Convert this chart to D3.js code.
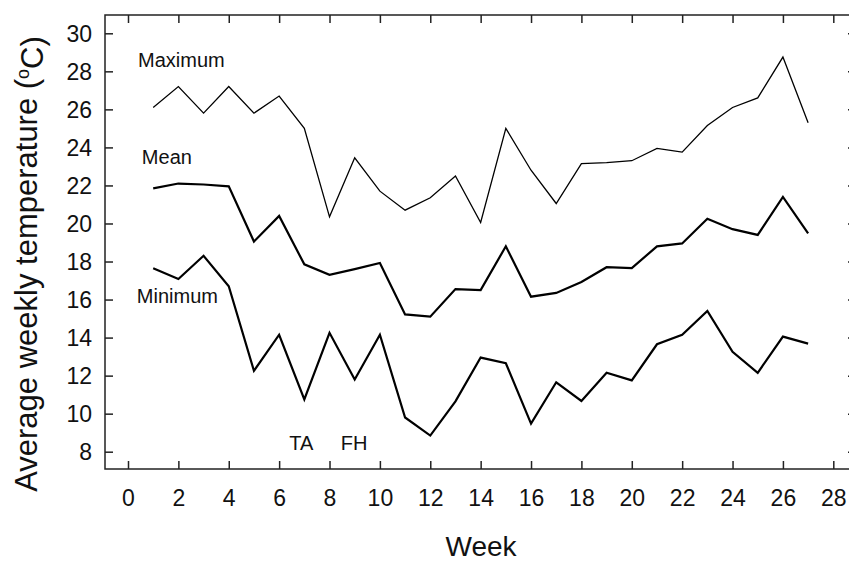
<!DOCTYPE html>
<html><head><meta charset="utf-8">
<script src="https://cdn.jsdelivr.net/npm/d3@7"></script>
<style>body{margin:0;background:#fff;}svg{display:block;font-family:Arial,"Liberation Sans",sans-serif;}</style>
</head><body>
<svg id="c" width="849" height="563"></svg>
<script>
const weeks = d3.range(1, 28);
const maximum = [26.1,27.2,25.8,27.2,25.8,26.7,25.0,20.35,23.45,21.7,20.7,21.35,22.5,20.05,25.0,22.8,21.05,23.15,23.2,23.3,23.95,23.75,25.15,26.1,26.6,28.75,25.3];
const mean    = [21.85,22.1,22.05,21.95,19.05,20.4,17.85,17.3,17.6,17.92,15.22,15.1,16.55,16.5,18.8,16.15,16.35,16.92,17.7,17.65,18.8,18.95,20.25,19.7,19.4,21.4,19.48];
const minimum = [17.65,17.08,18.3,16.7,12.25,14.15,10.75,14.25,11.8,14.15,9.8,8.85,10.65,12.95,12.65,9.48,11.65,10.67,12.15,11.75,13.65,14.15,15.4,13.25,12.15,14.05,13.68];
const xTicks = d3.range(0, 29, 2);
const yTicks = d3.range(8, 31, 2);
const seriesLabels = [
  {text:"Maximum", week:0.4, value:28.25},
  {text:"Mean", week:0.55, value:23.15},
  {text:"Minimum", week:0.35, value:15.8},
  {text:"TA", week:6.4, value:8.1},
  {text:"FH", week:8.45, value:8.1}
];

const svg = d3.select("#c");
const L = 105, R = 856, T = 15, B = 469;
const x = d3.scaleLinear().domain([0, 28]).range([128, 833.3]);
const y = d3.scaleLinear().domain([8, 30]).range([451.7, 33.3]);
const axisColor = "#222";
const FONT = "Arial,'Liberation Sans',sans-serif";

// frame
svg.append("rect").attr("x", L).attr("y", T).attr("width", R - L).attr("height", B - T)
  .attr("fill", "none").attr("stroke", axisColor).attr("stroke-width", 1.5);

const tk = 8;
// bottom ticks & labels
const gb = svg.append("g").attr("transform", `translate(0,${B})`)
  .call(d3.axisBottom(x).tickValues(xTicks).tickSize(-tk).tickPadding(0).tickFormat(d3.format("d")));
gb.select(".domain").remove();
gb.selectAll(".tick line").attr("stroke", axisColor).attr("stroke-width", 1.5);
gb.selectAll(".tick text").attr("y", 36.5).attr("dy", 0).attr("fill", "#111").style("font-size", "23px").style("font-family", FONT);
// top ticks
const gt = svg.append("g").attr("transform", `translate(0,${T})`)
  .call(d3.axisTop(x).tickValues(xTicks).tickSize(-tk).tickFormat(""));
gt.select(".domain").remove();
gt.selectAll(".tick line").attr("stroke", axisColor).attr("stroke-width", 1.5);
// left ticks & labels
const gl = svg.append("g").attr("transform", `translate(${L},0)`)
  .call(d3.axisLeft(y).tickValues(yTicks).tickSize(-tk).tickPadding(0).tickFormat(d3.format("d")));
gl.select(".domain").remove();
gl.selectAll(".tick line").attr("stroke", axisColor).attr("stroke-width", 1.5);
gl.selectAll(".tick text").attr("x", -13).attr("dy", "0.36em").attr("fill", "#111").style("font-size", "23px").style("font-family", FONT);
// right ticks
const gr = svg.append("g").attr("transform", `translate(${R},0)`)
  .call(d3.axisRight(y).tickValues(yTicks).tickSize(-tk).tickFormat(""));
gr.select(".domain").remove();
gr.selectAll(".tick line").attr("stroke", axisColor).attr("stroke-width", 1.5);

// lines
const line = d3.line().x((d, i) => x(weeks[i])).y(d => y(d));
[[maximum, 1.3], [mean, 2.2], [minimum, 2.2]].forEach(([s, w]) => {
  svg.append("path").datum(s).attr("d", line).attr("fill", "none")
    .attr("stroke", "#000").attr("stroke-width", w).attr("stroke-linejoin", "miter");
});

// series labels
svg.append("g").selectAll("text").data(seriesLabels).join("text")
  .attr("x", d => x(d.week)).attr("y", d => y(d.value))
  .style("font-size", "20px").attr("fill", "#111").text(d => d.text);

// axis titles
svg.append("text").attr("x", 481).attr("y", 556).attr("text-anchor", "middle")
  .style("font-size", "28px").attr("fill", "#111").text("Week");
const yt = svg.append("text").attr("transform", "translate(37,264) rotate(-90)")
  .attr("text-anchor", "middle").style("font-size", "31px").attr("fill", "#111");
yt.append("tspan").text("Average weekly temperature (");
yt.append("tspan").attr("dy", "-0.45em").style("font-size", "18px").text("o");
yt.append("tspan").attr("dy", "0.45em").text("C)");
</script>
</body></html>
